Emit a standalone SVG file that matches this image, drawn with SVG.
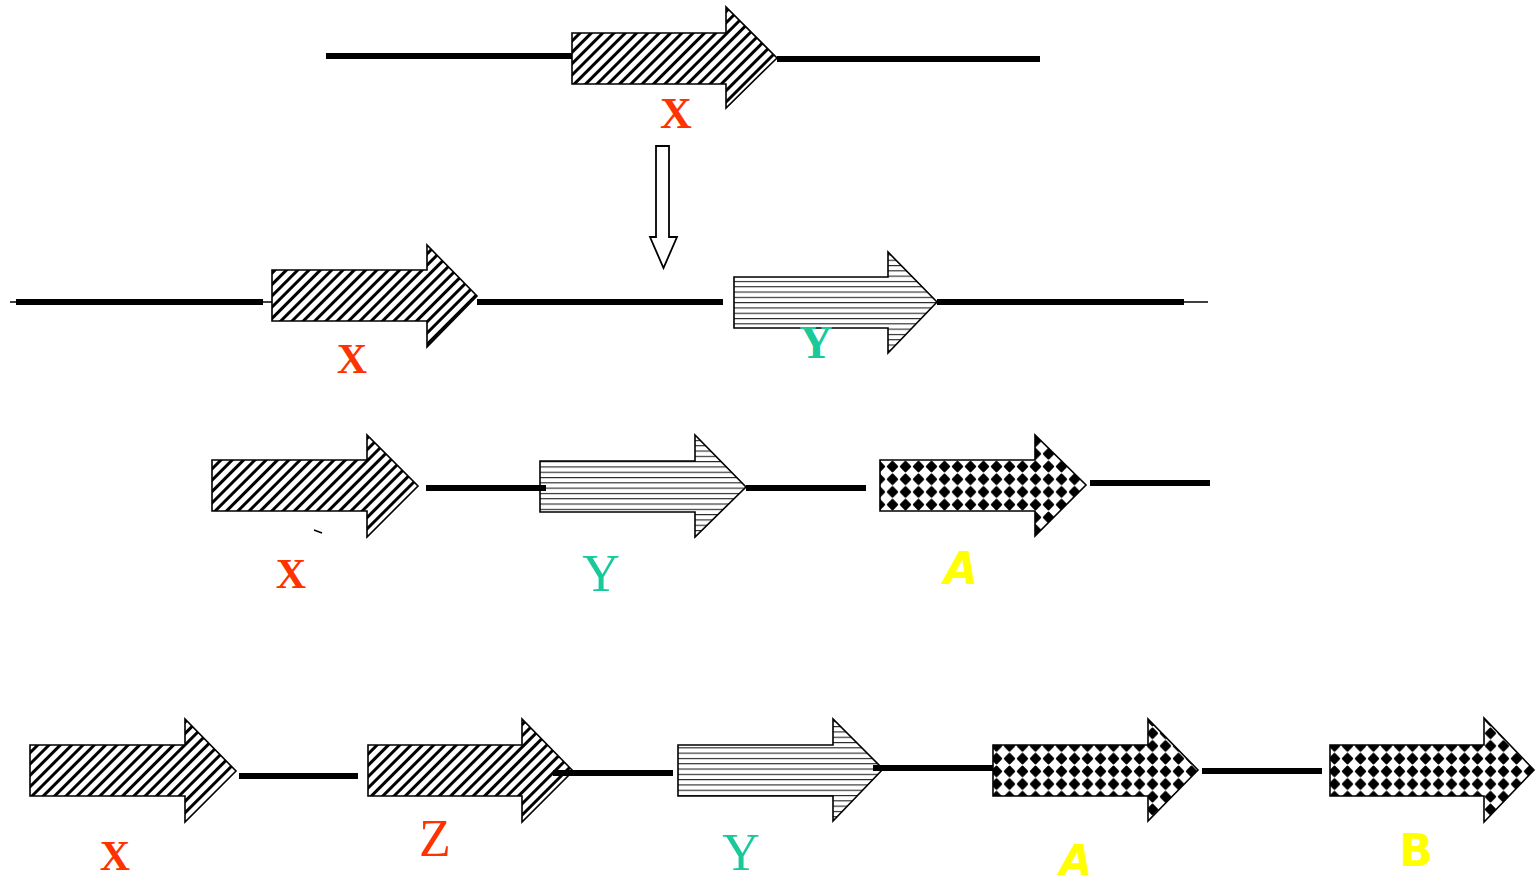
<svg xmlns="http://www.w3.org/2000/svg" width="1536" height="883" viewBox="0 0 1536 883">
<defs>
<pattern id="diag" patternUnits="userSpaceOnUse" width="8" height="8" patternTransform="rotate(45)">
<rect width="8" height="8" fill="#fff"/>
<rect x="0" y="0" width="3" height="8" fill="#000"/>
</pattern>
<pattern id="horiz" patternUnits="userSpaceOnUse" width="10" height="5.3">
<rect width="10" height="5.3" fill="#fff"/>
<rect x="0" y="0" width="10" height="1.1" fill="#222"/>
</pattern>
<pattern id="dots" patternUnits="userSpaceOnUse" width="13" height="12.7" x="2" y="3">
<rect width="13" height="12.7" fill="#fff"/>
<path d="M6.5,1.8 L11,6.35 L6.5,10.9 L2,6.35 Z" fill="#000" stroke="#000" stroke-width="2.4" stroke-linejoin="round"/>
</pattern>
</defs>
<style>
.gene{stroke:#000;stroke-width:1.6;stroke-linejoin:miter}
.d{fill:url(#diag)}
.h{fill:url(#horiz)}
.k{fill:url(#dots)}
.ln{stroke:#000;stroke-width:6;fill:none}
.thin{stroke:#000;stroke-width:1.5;fill:none}
.ser{font-family:"Liberation Serif","Times New Roman",serif;text-anchor:middle}
.red{fill:#ff3300}
.bx{font-weight:bold}
.grn{fill:#19c99a}
.yel{fill:#ffff00;font-family:"DejaVu Sans","Liberation Sans",sans-serif;text-anchor:middle;font-weight:bold}
.it{font-style:italic}
</style>
<rect width="1536" height="883" fill="#fff"/>

<g id="gene-x1"><path class="gene d" d="M572,33 H726 V7 L777,58 L726,108 V84 H572 Z"/><text class="ser red bx" x="676" y="128" font-size="44">X</text></g>

<g id="gene-x2"><path class="gene d" d="M272,270 H427 V245 L477,296 L427,347 V321 H272 Z"/><text class="ser red bx" x="352" y="373" font-size="42">X</text></g>
<g id="gene-y2"><path class="gene h" d="M734,277 H888 V252 L937,302 L888,353 V328 H734 Z"/><text class="ser grn bx" x="816" y="358" font-size="46">Y</text></g>

<g id="gene-x3"><path class="gene d" d="M212,460 H367 V435 L418,486 L367,537 V511 H212 Z"/><text class="ser red bx" x="291" y="588" font-size="42">X</text></g>
<g id="gene-y3"><path class="gene h" d="M540,461 H695 V435 L746,487 L695,537 V512 H540 Z"/><text class="ser grn" x="601" y="591" font-size="52">Y</text></g>
<g id="gene-a3"><path class="gene k" d="M880,460 H1035 V435 L1086,485 L1035,536 V511 H880 Z"/><text class="yel it" x="961" y="584" font-size="44">A</text></g>

<g id="gene-x4"><path class="gene d" d="M30,745 H185 V719 L236,771 L185,822 V796 H30 Z"/><text class="ser red bx" x="115" y="870" font-size="42">X</text></g>
<g id="gene-z4"><path class="gene d" d="M368,745 H522 V719 L573,771 L522,822 V796 H368 Z"/><text class="ser red" x="435" y="856" font-size="52">Z</text></g>
<g id="gene-y4"><path class="gene h" d="M678,745 H833 V719 L883,769 L833,821 V796 H678 Z"/><text class="ser grn" x="741" y="870" font-size="52">Y</text></g>
<g id="gene-a4"><path class="gene k" d="M993,745 H1148 V719 L1198,770 L1148,821 V796 H993 Z"/><text class="yel it" x="1076" y="875" font-size="42">A</text></g>
<g id="gene-b4"><path class="gene k" d="M1330,745 H1484 V718 L1534,770 L1484,822 V796 H1330 Z"/><text class="yel" x="1416" y="866" font-size="44">B</text></g>

<g id="connectors">
<line class="ln" x1="326" y1="56" x2="572" y2="56"/>
<line class="ln" x1="777" y1="59" x2="1040" y2="59"/>
<path d="M656,146 H669 V237 H677 L663.5,268 L650,237 H656 Z" fill="#fff" stroke="#000" stroke-width="1.8"/>
<line class="thin" x1="10" y1="302" x2="18" y2="302"/>
<line class="ln" x1="16" y1="302" x2="263" y2="302"/>
<line class="thin" x1="262" y1="302" x2="272" y2="302"/>
<line class="ln" x1="477" y1="302" x2="723" y2="302"/>
<line class="ln" x1="937" y1="302" x2="1184" y2="302"/>
<line class="thin" x1="1182" y1="302" x2="1208" y2="302"/>
<line class="ln" x1="426" y1="488" x2="546" y2="488"/>
<line class="ln" x1="746" y1="488" x2="866" y2="488"/>
<line class="ln" x1="1090" y1="483" x2="1210" y2="483"/>
<line class="thin" x1="314" y1="530" x2="322" y2="533"/>
<line class="ln" x1="239" y1="776" x2="358" y2="776"/>
<line class="ln" x1="553" y1="773" x2="673" y2="773"/>
<line class="ln" x1="873" y1="768" x2="993" y2="768"/>
<line class="ln" x1="1202" y1="771" x2="1322" y2="771"/>
</g>
</svg>
